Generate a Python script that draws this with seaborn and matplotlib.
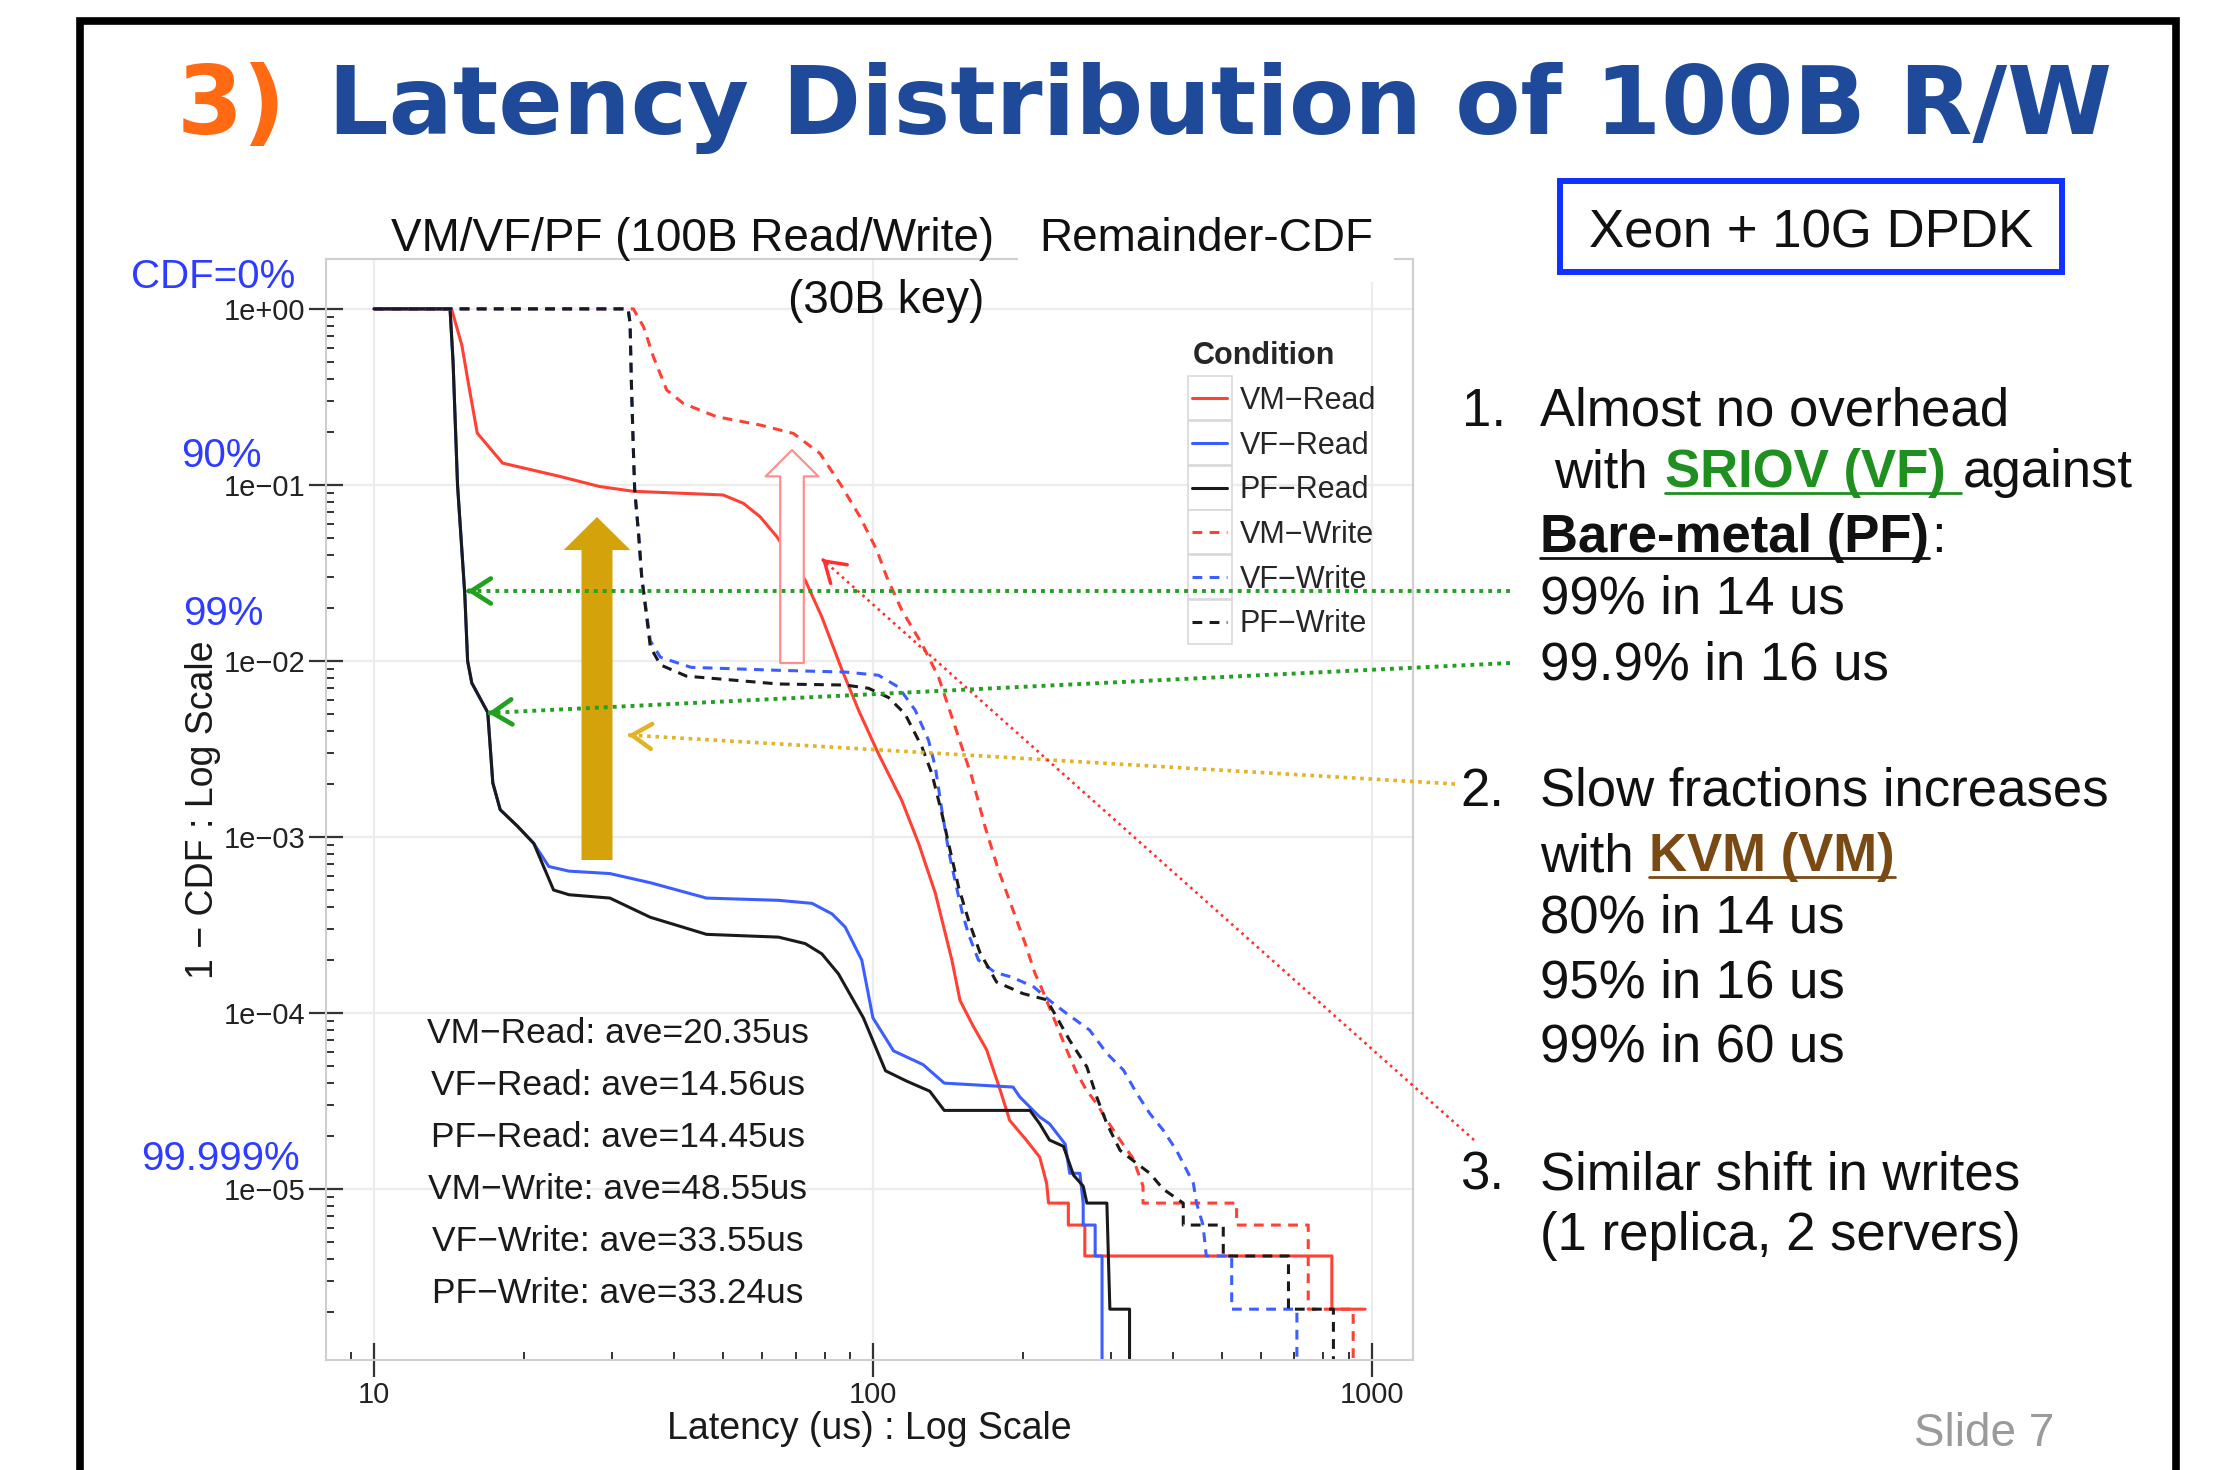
import numpy as np
import pandas as pd
import matplotlib
matplotlib.use("Agg")
import matplotlib.pyplot as plt
import matplotlib.ticker as mticker
from matplotlib.patches import Rectangle, FancyArrowPatch, ArrowStyle
from matplotlib.lines import Line2D
from matplotlib.legend_handler import HandlerLine2D
import seaborn as sns

# ------------------------------------------------------------------ data
conditions = ["VM\u2212Read", "VF\u2212Read", "PF\u2212Read",
              "VM\u2212Write", "VF\u2212Write", "PF\u2212Write"]
averages = [20.35, 14.56, 14.45, 48.55, 33.55, 33.24]

vm_read_latency = [10, 14.3, 15.0, 15.4, 16.1, 18.1, 23.5, 28.3, 33.1, 50.1, 55.0, 59.4, 64.2,
                   68.2, 73.2, 79.0, 86.7, 93.6, 102.6, 114.3, 123.5, 133.4, 144, 149.5, 159,
                   169, 180, 188, 203, 216, 223, 225, 246.5, 246.5, 266, 266, 832, 832, 970]
vm_read_remainder = [1, 1, 0.62, 0.40, 0.197, 0.133, 0.112, 0.098, 0.092, 0.0877, 0.0786, 0.066,
                     0.0508, 0.0392, 0.0287, 0.0178, 8.9e-3, 5.25e-3, 2.97e-3, 1.61e-3, 9.2e-4,
                     4.8e-4, 2.0e-4, 1.18e-4, 8.4e-5, 6.2e-5, 3.65e-5, 2.46e-5, 1.9e-5, 1.52e-5,
                     1.08e-5, 8.33e-6, 8.33e-6, 6.25e-6, 6.25e-6, 4.17e-6, 4.17e-6, 2.08e-6, 2.08e-6]

vf_read_latency = [10, 14.2, 14.4, 14.7, 15.2, 15.4, 15.7, 16.9, 17.3, 17.9, 19.4, 20.9, 22.4,
                   24.6, 29.7, 35.8, 46.4, 64.7, 75.5, 82.8, 88.0, 95.0, 100, 110, 126, 139, 191,
                   197, 216, 226, 243, 248, 260, 264, 264, 279, 279, 288, 288]
vf_read_remainder = [1, 1, 0.5, 0.1, 0.024, 0.01, 7.5e-3, 5.1e-3, 2.03e-3, 1.43e-3, 1.15e-3,
                     9.2e-4, 6.8e-4, 6.4e-4, 6.2e-4, 5.5e-4, 4.5e-4, 4.37e-4, 4.2e-4, 3.66e-4,
                     3.08e-4, 2.0e-4, 9.4e-5, 6.1e-5, 5.1e-5, 4.0e-5, 3.8e-5, 3.34e-5, 2.57e-5,
                     2.35e-5, 1.8e-5, 1.23e-5, 1.23e-5, 8.33e-6, 6.25e-6, 6.25e-6, 4.17e-6,
                     4.17e-6, 1e-9]

pf_read_latency = [10, 14.2, 14.4, 14.7, 15.2, 15.4, 15.7, 16.9, 17.3, 17.9, 19.4, 20.9, 22.9,
                   24.6, 29.7, 35.8, 46.4, 64.7, 73.2, 79.0, 85.3, 95.7, 106, 117, 130, 139,
                   206.5, 216, 226, 241, 252.5, 264, 268.5, 294.5, 298.6, 327, 327]
pf_read_remainder = [1, 1, 0.5, 0.1, 0.024, 0.01, 7.5e-3, 5.1e-3, 2.03e-3, 1.43e-3, 1.15e-3,
                     9.2e-4, 5.0e-4, 4.7e-4, 4.5e-4, 3.5e-4, 2.8e-4, 2.7e-4, 2.48e-4, 2.17e-4,
                     1.67e-4, 9.4e-5, 4.7e-5, 4.1e-5, 3.6e-5, 2.8e-5, 2.8e-5, 2.35e-5, 1.9e-5,
                     1.75e-5, 1.2e-5, 1.04e-5, 8.33e-6, 8.33e-6, 2.08e-6, 2.08e-6, 1e-9]

vm_write_latency = [10, 33.1, 34.7, 36.3, 38.6, 41.7, 48.6, 59.4, 69.3, 78.3, 85.9, 94.2, 101.8,
                    106.6, 114.3, 125.4, 135.4, 146.3, 157.9, 167.9, 178.5, 190, 202, 211.5, 216,
                    230, 244.5, 256, 268, 281, 294.5, 313, 332, 348, 348, 536, 536, 746, 746,
                    918, 918]
vm_write_remainder = [1, 1, 0.79, 0.535, 0.346, 0.29, 0.244, 0.219, 0.196, 0.151, 0.102, 0.066,
                      0.0427, 0.030, 0.0194, 0.0125, 8.1e-3, 4.2e-3, 2.19e-3, 1.14e-3, 6.5e-4,
                      4.0e-4, 2.48e-4, 1.67e-4, 1.47e-4, 9.5e-5, 6.2e-5, 4.6e-5, 3.65e-5,
                      3.06e-5, 2.46e-5, 1.9e-5, 1.5e-5, 1.04e-5, 8.33e-6, 8.33e-6, 6.25e-6,
                      6.25e-6, 2.08e-6, 2.08e-6, 1e-9]

vf_write_latency = [10, 32.3, 32.6, 32.8, 33.1, 33.3, 33.9, 34.4, 35.8, 37.5, 43.2, 64.7, 88.0,
                    102.6, 112.6, 121.6, 129.3, 133.4, 137.5, 141.8, 146, 150.8, 155.5, 162.8,
                    175.8, 190, 210, 226, 244.5, 272, 294.5, 318, 338, 359, 382, 406, 419, 439,
                    445.5, 459, 466, 524, 524, 708, 708]
vf_write_remainder = [1, 1, 0.83, 0.378, 0.158, 0.094, 0.053, 0.030, 0.013, 0.0105, 9.2e-3,
                      8.85e-3, 8.65e-3, 8.3e-3, 7.1e-3, 5.25e-3, 3.54e-3, 2.5e-3, 1.42e-3,
                      8.4e-4, 5.7e-4, 3.8e-4, 2.8e-4, 2.0e-4, 1.7e-4, 1.6e-4, 1.41e-4, 1.18e-4,
                      9.95e-5, 8.0e-5, 5.9e-5, 4.74e-5, 3.5e-5, 2.69e-5, 2.16e-5, 1.66e-5,
                      1.4e-5, 1.08e-5, 8.33e-6, 6.25e-6, 4.17e-6, 4.17e-6, 2.08e-6, 2.08e-6, 1e-9]

pf_write_latency = [10, 32.3, 32.6, 32.8, 33.1, 33.3, 33.9, 34.4, 35.8, 37.5, 42.3, 64.7, 88.0,
                    98.0, 107.5, 116, 125.4, 131.3, 137.5, 141.8, 148.5, 155.5, 164, 177, 200,
                    223, 233.5, 248, 268.5, 281, 294.5, 313, 338, 359, 382, 419, 419, 504, 504,
                    681, 681, 838, 838]
pf_write_remainder = [1, 1, 0.83, 0.378, 0.158, 0.094, 0.053, 0.030, 0.012, 0.0095, 8.2e-3,
                      7.4e-3, 7.3e-3, 7.0e-3, 6.2e-3, 5.0e-3, 3.25e-3, 2.29e-3, 1.36e-3, 9.2e-4,
                      5.2e-4, 3.37e-4, 2.2e-4, 1.5e-4, 1.29e-4, 1.19e-4, 9.5e-5, 7.0e-5, 4.95e-5,
                      3.34e-5, 2.35e-5, 1.66e-5, 1.4e-5, 1.23e-5, 1.0e-5, 8.33e-6, 6.25e-6,
                      6.25e-6, 4.17e-6, 4.17e-6, 2.08e-6, 2.08e-6, 1e-9]

xtick_values = [10, 100, 1000]
xtick_labels = ["10", "100", "1000"]
ytick_values = [1e0, 1e-1, 1e-2, 1e-3, 1e-4, 1e-5]
ytick_labels = ["1e+00", "1e\u221201", "1e\u221202", "1e\u221203", "1e\u221204", "1e\u221205"]
cdf_marks = ["CDF=0%", "90%", "99%", "99.999%"]

# ------------------------------------------------------------------ figure
W, H = 2222, 1470
def fx(px):
    return px / W
def fy(py):
    return 1 - py / H

sns.set_style("white")
plt.rcParams["font.family"] = ["Liberation Sans", "DejaVu Sans"]

fig = plt.figure(figsize=(W / 100, H / 100), dpi=100)
fig.patch.set_facecolor("white")
ax = fig.add_axes([fx(326), fy(1360), fx(1413) - fx(326), fy(259) - fy(1360)])
ax.set_facecolor("white")

series_x = [vm_read_latency, vf_read_latency, pf_read_latency,
            vm_write_latency, vf_write_latency, pf_write_latency]
series_y = [vm_read_remainder, vf_read_remainder, pf_read_remainder,
            vm_write_remainder, vf_write_remainder, pf_write_remainder]
frames = [pd.DataFrame({"Condition": c, "Latency": xs, "Remainder": ys})
          for c, xs, ys in zip(conditions, series_x, series_y)]
df = pd.concat(frames, ignore_index=True)

RED, BLUE, BLACK = "#ff4034", "#3d5eff", "#1a1a1a"
palette = dict(zip(conditions, [RED, BLUE, BLACK, RED, BLUE, BLACK]))
dash = (3.2, 2.4)
dashes = dict(zip(conditions, ["", "", "", dash, dash, dash]))
LW = 2.2

sns.lineplot(data=df, x="Latency", y="Remainder", hue="Condition", style="Condition",
             hue_order=conditions, style_order=conditions, palette=palette, dashes=dashes,
             estimator=None, sort=False, linewidth=LW, ax=ax, legend="full")

ax.set_xscale("log")
ax.set_yscale("log")
ax.set_xlim(8.01, 1210)
ax.set_ylim(1.07e-6, 1.92)

ax.xaxis.set_major_locator(mticker.FixedLocator(xtick_values))
ax.xaxis.set_major_formatter(mticker.FixedFormatter(xtick_labels))
ax.xaxis.set_minor_locator(mticker.LogLocator(base=10, subs=np.arange(2, 10), numticks=50))
ax.xaxis.set_minor_formatter(mticker.NullFormatter())
ax.yaxis.set_major_locator(mticker.FixedLocator(ytick_values))
ax.yaxis.set_major_formatter(mticker.FixedFormatter(ytick_labels))
ax.yaxis.set_minor_locator(mticker.LogLocator(base=10, subs=np.arange(2, 10), numticks=50))
ax.yaxis.set_minor_formatter(mticker.NullFormatter())

ax.tick_params(which="both", bottom=True, left=True, top=False, right=False)
ax.tick_params(which="major", direction="inout", length=24, width=1.6, color="#333333",
               labelsize=21, labelcolor="#222222", pad=3)
ax.tick_params(which="minor", direction="in", length=5.5, width=1.4, color="#333333")
ax.grid(True, which="major", color="#ececec", lw=1.6)
ax.grid(False, which="minor")
ax.set_axisbelow(True)
for s in ax.spines.values():
    s.set_visible(True)
    s.set_color("#cfcfcf")
    s.set_linewidth(1.5)

ax.set_xlabel("Latency (us) : Log Scale", fontsize=27, color="#1a1a1a")
ax.xaxis.set_label_coords(0.5, -0.046)
ax.set_ylabel("1 \u2212 CDF : Log Scale", fontsize=27, color="#1a1a1a")
ax.yaxis.set_label_coords(-0.097, 0.5)


# legend with ggplot-like key boxes
class BoxedLine(HandlerLine2D):
    def create_artists(self, legend, orig_handle, xdescent, ydescent, width, height,
                       fontsize, trans):
        arts = super().create_artists(legend, orig_handle, xdescent, ydescent, width,
                                      height, fontsize, trans)
        cx = -xdescent + width / 2
        cy = -ydescent + height / 2
        half = 15.8
        box = Rectangle((cx - half, cy - half), 2 * half, 2 * half, fc="white",
                        ec="#d6d6d6", lw=1.1, transform=trans)
        return [box] + arts


old = ax.get_legend()
handles = list(old.legend_handles)
labels = [t.get_text() for t in old.get_texts()]
old.remove()
for h in handles:
    h.set_linewidth(LW)
ax.legend(handles, labels, title="Condition", loc="upper left",
          bbox_to_anchor=(fx(1177), fy(326)), bbox_transform=fig.transFigure,
          frameon=False, borderpad=0, fontsize=22,
          title_fontproperties={"weight": "bold", "size": 22},
          labelspacing=0.48, handlelength=1.15, handletextpad=0.4, alignment="left",
          handler_map={Line2D: BoxedLine()})

# ------------------------------------------------------------------ texts
def ftext(x, y, s, **kw):
    kw.setdefault("va", "baseline")
    kw.setdefault("color", "#111111")
    return fig.text(fx(x), fy(y), s, **kw)

# slide title
ftext(177, 134, "3)", fontsize=68.5, fontweight="bold", family="DejaVu Sans", color="#ff6a13")
ftext(328, 134, "Latency Distribution of 100B R/W", fontsize=68.5, fontweight="bold",
      family="DejaVu Sans", color="#1f4a9a")

# panel titles
ftext(391, 251, "VM/VF/PF (100B Read/Write)", fontsize=33)
ftext(1039, 251, "Remainder-CDF", fontsize=33,
      bbox=dict(boxstyle="square,pad=0.45", fc="white", ec="none"))
ftext(788, 313, "(30B key)", fontsize=33)

# blue cdf marks
for label, (px, py) in zip(cdf_marks, [(213, 288), (221, 467), (223, 625), (220, 1170)]):
    ftext(px, py, label, fontsize=29, ha="center", color="#2e3cff")

# averages
for i, (name, avg) in enumerate(zip(conditions, averages)):
    ftext(618, 1043 + 52 * i, f"{name}: ave={avg:.2f}us", fontsize=25.5, ha="center",
          color="#1a1a1a")

# Xeon box
fig.add_artist(Rectangle((fx(1560), fy(272)), fx(2062) - fx(1560), fy(181) - fy(272),
                         transform=fig.transFigure, fill=False, ec="#1030ff", lw=4.3))
ftext(1811, 247, "Xeon + 10G DPDK", fontsize=38, ha="center")

RS = 38
ftext(1462, 426, "1.", fontsize=RS)
ftext(1540, 426, "Almost no overhead", fontsize=RS)
ftext(1554, 487, "with", fontsize=RS)
t_sriov = ftext(1665, 487, "SRIOV (VF)", fontsize=RS, fontweight="bold", color="#1f8f1f")
ftext(1963, 487, "against", fontsize=RS)
t_bare = ftext(1540, 552, "Bare-metal (PF)", fontsize=RS, fontweight="bold")
ftext(1931, 552, ":", fontsize=RS)
ftext(1540, 614, "99% in 14 us", fontsize=RS)
ftext(1540, 679, "99.9% in 16 us", fontsize=RS)
ftext(1460, 806, "2.", fontsize=RS)
ftext(1540, 806, "Slow fractions increases", fontsize=RS)
ftext(1540, 871, "with", fontsize=RS)
t_kvm = ftext(1649, 871, "KVM (VM)", fontsize=RS, fontweight="bold", color="#7a4a14")
ftext(1540, 933, "80% in 14 us", fontsize=RS)
ftext(1540, 997, "95% in 16 us", fontsize=RS)
ftext(1540, 1062, "99% in 60 us", fontsize=RS)
ftext(1460, 1190, "3.", fontsize=RS)
ftext(1540, 1190, "Similar shift in writes", fontsize=RS)
ftext(1540, 1250, "(1 replica, 2 servers)", fontsize=RS)
ftext(1914, 1446, "Slide 7", fontsize=33, color="#9a9a9a")

# ------------------------------------------------------------------ arrows
fig.add_artist(FancyArrowPatch((fx(597), fy(860)), (fx(597), fy(517)), transform=fig.transFigure,
                               arrowstyle=ArrowStyle("simple", head_length=23.8, head_width=48,
                                                     tail_width=22.3),
                               mutation_scale=1, fc="#d4a20a", ec="none", shrinkA=0, shrinkB=0))
fig.add_artist(FancyArrowPatch((fx(792), fy(663)), (fx(792), fy(450)), transform=fig.transFigure,
                               arrowstyle=ArrowStyle("simple", head_length=19, head_width=38,
                                                     tail_width=17),
                               mutation_scale=1, fc="white", ec="#ff8f8f", lw=1.6,
                               shrinkA=0, shrinkB=0))


def dotted_arrow(x0, y0, x1, y1, color, lw, pattern, hl=14, hw=9):
    fig.add_artist(Line2D([fx(x0), fx(x1)], [fy(y0), fy(y1)], transform=fig.transFigure,
                          color=color, lw=lw, linestyle=(0, pattern)))
    d = np.hypot(x1 - x0, y1 - y0)
    ux, uy = (x1 - x0) / d, (y1 - y0) / d
    fig.add_artist(FancyArrowPatch((fx(x1 - 2 * ux), fy(y1 - 2 * uy)), (fx(x1), fy(y1)),
                                   transform=fig.transFigure,
                                   arrowstyle=ArrowStyle("->", head_length=hl, head_width=hw),
                                   mutation_scale=1, color=color, lw=lw + 0.6,
                                   shrinkA=0, shrinkB=0))


dotted_arrow(1510, 591, 467, 591, "#22a022", 2.8, (1, 1.3))
dotted_arrow(1510, 663, 488, 713, "#22a022", 2.8, (1, 1.3))
dotted_arrow(1455, 784, 628, 735, "#e2b324", 2.6, (1, 1.3))
dotted_arrow(1474, 1140, 822, 559, "#ff3030", 1.9, (1, 1.6))

# slide frame
fig.add_artist(Rectangle((fx(80), -0.1), fx(2176) - fx(80), fy(21) + 0.1,
                         transform=fig.transFigure, fill=False, ec="black", lw=5.5))

# underlines
fig.canvas.draw()
renderer = fig.canvas.get_renderer()


def underline(t, base_y, x_end=None, color="#111111"):
    bb = t.get_window_extent(renderer)
    xe = bb.x1 if x_end is None else x_end
    fig.add_artist(Line2D([bb.x0 / W, xe / W], [fy(base_y + 6)] * 2, transform=fig.transFigure,
                          color=color, lw=2.0))


underline(t_sriov, 487, 1961, "#1f8f1f")
underline(t_bare, 552, None, "#111111")
underline(t_kvm, 871, None, "#7a4a14")

fig.savefig("out.png", dpi=100, facecolor="white")
